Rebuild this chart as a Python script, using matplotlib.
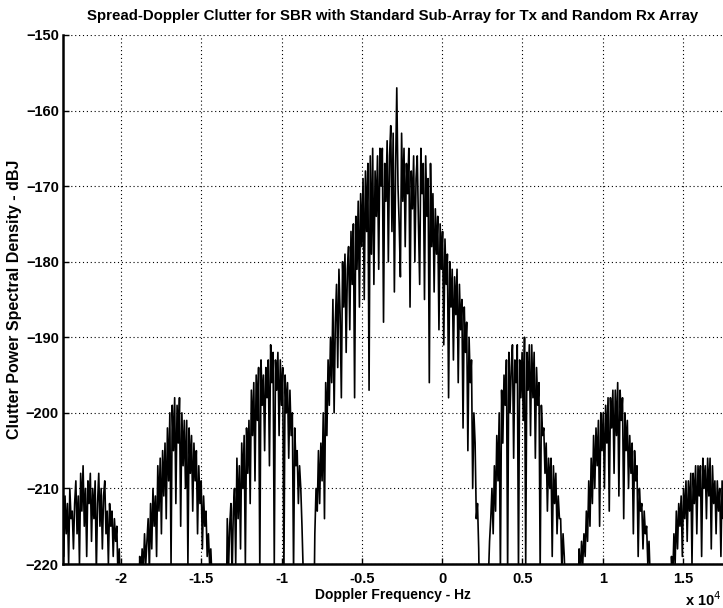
import numpy as np
import matplotlib
matplotlib.use("Agg")
import matplotlib.pyplot as plt

plt.rcParams['font.family'] = ['Liberation Sans', 'DejaVu Sans']

# frequency step of the sampled spectrum (x 10^4 Hz)
step = 0.0075

# each lobe: start frequency (x 10^4 Hz) and PSD values (dBJ)
lobe_a_start = -2.37
lobe_a = [-222, -213, -219, -211, -216, -212, -220, -210, -214, -213, -218, -212, -209, -216, -211, -220,
          -208, -213, -207, -215, -210, -219, -209, -212, -208, -217, -210, -214, -209, -221, -212, -208,
          -215, -210, -218, -211, -209, -216, -213, -220, -212, -215, -213, -219, -214, -217, -215, -222,
          -218, -224, -230]

lobe_b_start = -1.89
lobe_b = [-230, -219, -222, -218, -221, -216, -220, -217, -214, -221, -212, -218, -210, -215, -211, -219,
          -207, -213, -206, -216, -205, -211, -204, -214, -202, -209, -200, -220, -199, -205, -198, -212,
          -199, -204, -198, -215, -200, -207, -201, -210, -201, -220, -202, -208, -203, -213, -204, -209,
          -205, -216, -207, -212, -209, -218, -211, -215, -213, -219, -216, -220, -218, -222, -230]

lobe_c_start = -1.345
lobe_c = [-230, -214, -221, -215, -212, -222, -213, -210, -220, -206, -214, -207, -218, -204, -210, -203,
          -220, -202, -208, -201, -212, -197, -203, -196, -209, -195, -201, -194, -221, -193, -199, -195,
          -205, -194, -198, -193, -207, -191, -196, -192, -220, -193, -197, -192, -203, -193, -199, -194,
          -221, -195, -200, -196, -206, -197, -203, -200, -221, -202, -207, -205, -212, -207, -210, -215,
          -221, -224, -230]

main_start = -0.80
main_lobe = [-230, -216, -210, -213, -205, -212, -204, -209, -200, -214, -196, -203, -193, -199, -190, -196,
             -185, -200, -188, -183, -194, -181, -187, -198, -180, -186, -179, -192, -181, -178, -189, -176,
             -183, -175, -198, -174, -181, -172, -186, -171, -178, -169, -185, -168, -176, -167, -197, -166,
             -179, -165, -183, -168, -174, -166, -181, -165, -170, -165, -188, -167, -172, -164, -180, -166,
             -162, -176, -163, -184, -168, -157, -170, -175, -182, -163, -172, -165, -178, -167, -171, -165,
             -186, -168, -173, -166, -180, -169, -166, -175, -183, -165, -171, -167, -185, -166, -174, -169,
             -196, -167, -178, -171, -184, -173, -179, -174, -189, -175, -181, -176, -191, -177, -183, -179,
             -198, -180, -186, -181, -193, -182, -187, -181, -196, -183, -189, -185, -202, -186, -192, -188,
             -205, -190, -196, -193, -210, -200, -204, -214, -212, -218, -230]

lobe_d_start = 0.28
lobe_d = [-230, -222, -217, -214, -210, -216, -207, -213, -203, -209, -200, -221, -197, -204, -195, -199,
          -193, -221, -192, -200, -194, -191, -206, -193, -196, -191, -221, -193, -198, -192, -201, -190,
          -220, -192, -197, -191, -203, -191, -198, -192, -206, -194, -199, -196, -221, -199, -203, -202,
          -208, -204, -213, -206, -210, -206, -219, -207, -212, -208, -216, -211, -214, -214, -221, -216,
          -219, -224, -230]

lobe_e_start = 0.845
lobe_e = [-230, -218, -222, -217, -220, -216, -219, -213, -217, -209, -215, -206, -212, -203, -210, -202,
          -207, -201, -215, -200, -205, -200, -210, -199, -204, -198, -213, -198, -202, -197, -208, -197,
          -203, -196, -211, -197, -201, -198, -214, -200, -205, -201, -210, -203, -208, -204, -216, -205,
          -209, -207, -219, -210, -213, -212, -218, -213, -216, -215, -220, -217, -222, -224, -230]

lobe_f_start = 1.42
lobe_f = [-230, -219, -222, -216, -220, -213, -218, -212, -215, -211, -219, -210, -214, -209, -217, -209,
          -213, -208, -220, -208, -212, -207, -216, -207, -211, -207, -219, -206, -210, -207, -214, -206,
          -211, -206, -218, -207, -212, -209, -216, -209, -213, -210, -219, -209, -214, -209, -217, -210,
          -213, -211, -215]

starts = [lobe_a_start, lobe_b_start, lobe_c_start, main_start, lobe_d_start, lobe_e_start, lobe_f_start]
lobes = [lobe_a, lobe_b, lobe_c, main_lobe, lobe_d, lobe_e, lobe_f]

freq = []
psd = []
for s, vals in zip(starts, lobes):
    freq.extend(s + step * np.arange(len(vals)))
    psd.extend(vals)

xticks = [-2, -1.5, -1, -0.5, 0, 0.5, 1, 1.5]
xticklabels = ['-2', '-1.5', '-1', '-0.5', '0', '0.5', '1', '1.5']
yticks = [-220, -210, -200, -190, -180, -170, -160, -150]

fig = plt.figure(figsize=(7.23, 6.08), dpi=100)
ax = fig.add_axes([63 / 723, 1 - 564 / 608, (723 - 63) / 723, (564 - 35) / 608])

ax.plot(freq, psd, color='black', linewidth=1.2)

ax.set_xlim(-2.36, 1.748)
ax.set_ylim(-220, -150)
ax.set_xticks(xticks)
ax.set_xticklabels(xticklabels)
ax.set_yticks(yticks)
ax.grid(True, color='black', linestyle=(0, (1, 2.5)), linewidth=0.8)
ax.tick_params(direction='in', length=4, width=1, labelsize=10.5)
ax.tick_params(axis='x', pad=6)
ax.tick_params(axis='y', pad=3)
for lab in ax.get_xticklabels() + ax.get_yticklabels():
    lab.set_fontweight('bold')

ax.spines['top'].set_visible(False)
ax.spines['right'].set_visible(False)
ax.spines['left'].set_linewidth(1.8)
ax.spines['bottom'].set_linewidth(1.8)

ax.set_title('Spread-Doppler Clutter for SBR with Standard Sub-Array for Tx and Random Rx Array',
             fontsize=10.8, fontweight='bold', pad=11)
ax.set_xlabel('Doppler Frequency - Hz', fontsize=10, fontweight='bold', labelpad=1)
ax.set_ylabel('Clutter Power Spectral Density - dBJ', fontsize=11.5, fontweight='bold', labelpad=3)
fig.text(685 / 723, 1 - 606 / 608, 'x 10$^4$', fontsize=10.5, fontweight='bold')

fig.savefig('out.png', dpi=100)
